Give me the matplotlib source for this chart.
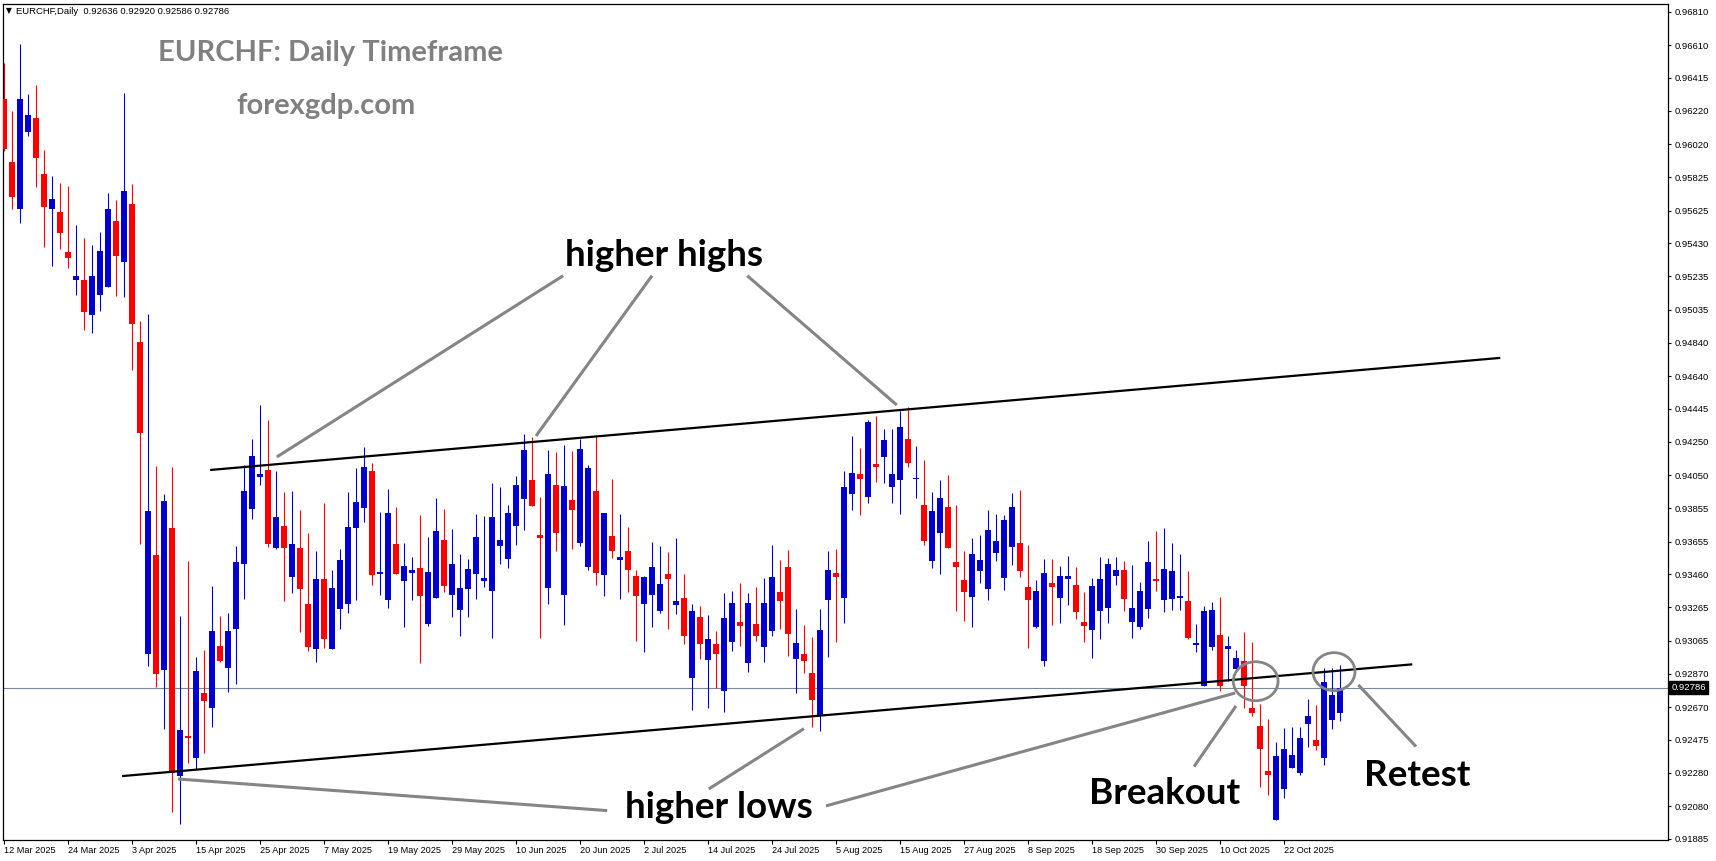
import matplotlib
matplotlib.use("Agg")
import matplotlib.pyplot as plt
from matplotlib.patches import Ellipse
from matplotlib.transforms import blended_transform_factory

# ---------------- data ----------------
opens = [0.96290,0.95915,0.95637,0.96095,0.96177,0.95843,0.95637,0.95617,0.95381,0.95214,
         0.95212,0.95006,0.95125,0.95173,0.95564,0.95321,0.95667,0.94845,0.92988,0.93576,
         0.92888,0.93736,0.92260,0.92498,0.92369,0.92756,0.92667,0.93034,0.92905,0.93133,
         0.93520,0.93848,0.94042,0.94082,0.93619,0.93748,0.93447,0.93617,0.93284,0.93018,
         0.93433,0.93018,0.93256,0.93286,0.93738,0.93857,0.94076,0.93460,0.93308,0.93641,
         0.93423,0.93471,0.93498,0.93167,0.93322,0.93665,0.93339,0.93250,0.93375,0.93464,
         0.93423,0.93363,0.93631,0.93554,0.93750,0.93911,0.94022,0.93695,0.93381,0.93992,
         0.93339,0.93903,0.93649,0.93506,0.93957,0.93458,0.93689,0.93548,0.93599,0.93451,
         0.93286,0.93339,0.93244,0.93463,0.93280,0.93320,0.92845,0.93207,0.92952,0.93046,
         0.92768,0.93060,0.93177,0.92935,0.93165,0.93030,0.93125,0.93357,0.93504,0.92958,
         0.92986,0.92875,0.92617,0.93310,0.93468,0.93322,0.93941,0.94058,0.93923,0.94117,
         0.94159,0.93982,0.94024,0.94266,0.94026,0.93873,0.93542,0.93708,0.93861,0.93534,
         0.93427,0.93327,0.93482,0.93375,0.93589,0.93441,0.93625,0.93647,0.93387,0.93149,
         0.92947,0.93409,0.93322,0.93435,0.93397,0.93177,0.93131,0.93244,0.93262,0.93452,
         0.93486,0.93179,0.93149,0.93256,0.93435,0.93310,0.93316,0.93322,0.93302,0.93042,
         0.92798,0.93030,0.93099,0.93018,0.92897,0.92945,0.92666,0.92558,0.92290,0.91997,
         0.92181,0.92310,0.92280,0.92570,0.92475,0.92369,0.92594,0.92636]
highs = [0.96502,0.96218,0.96617,0.96320,0.96373,0.95986,0.95831,0.95790,0.95774,0.95540,
         0.95462,0.95421,0.95500,0.95730,0.95689,0.96327,0.95784,0.94967,0.95010,0.94105,
         0.93939,0.94098,0.93213,0.93540,0.92970,0.93010,0.93391,0.93213,0.93232,0.93629,
         0.94111,0.94264,0.94468,0.94379,0.94076,0.93951,0.93957,0.93844,0.93705,0.93598,
         0.93883,0.93486,0.93610,0.93951,0.94094,0.94217,0.94123,0.93832,0.93970,0.93861,
         0.93647,0.93564,0.93814,0.93685,0.93915,0.93849,0.93730,0.93582,0.93552,0.93820,
         0.93808,0.94004,0.93980,0.93873,0.94046,0.94296,0.94280,0.93921,0.94202,0.94189,
         0.94230,0.94195,0.94266,0.94111,0.94290,0.93826,0.94028,0.93820,0.93742,0.93486,
         0.93451,0.93653,0.93629,0.93594,0.93677,0.93464,0.93286,0.93270,0.93219,0.93123,
         0.93350,0.93363,0.93411,0.93348,0.93385,0.93439,0.93637,0.93546,0.93605,0.93256,
         0.93159,0.93089,0.93256,0.93599,0.93611,0.94076,0.94284,0.94213,0.94379,0.94403,
         0.94326,0.94326,0.94433,0.94455,0.94224,0.94141,0.93951,0.94022,0.94052,0.93873,
         0.93599,0.93677,0.93695,0.93844,0.93820,0.93814,0.93947,0.93962,0.93635,0.93427,
         0.93554,0.93552,0.93510,0.93570,0.93504,0.93355,0.93439,0.93564,0.93560,0.93564,
         0.93540,0.93516,0.93415,0.93659,0.93719,0.93736,0.93647,0.93582,0.93480,0.93165,
         0.93272,0.93298,0.93326,0.93094,0.93010,0.93117,0.93056,0.92688,0.92600,0.92463,
         0.92546,0.92550,0.92550,0.92719,0.92683,0.92901,0.92901,0.92920]
lows = [0.95980,0.95637,0.95550,0.96070,0.95768,0.95411,0.95298,0.95399,0.95286,0.95125,
        0.94917,0.94899,0.95030,0.95168,0.95119,0.95113,0.94679,0.93638,0.92916,0.92788,
        0.92542,0.92046,0.91975,0.92336,0.92300,0.92395,0.92554,0.92941,0.92762,0.92806,
        0.93312,0.93792,0.93990,0.93621,0.93610,0.93304,0.93351,0.93119,0.93006,0.92941,
        0.93020,0.93016,0.93137,0.93232,0.93308,0.93772,0.93399,0.93339,0.93260,0.93463,
        0.93144,0.93305,0.92935,0.93155,0.93322,0.93357,0.93208,0.93095,0.93208,0.93316,
        0.93387,0.93083,0.93524,0.93500,0.93637,0.93726,0.93867,0.93083,0.93286,0.93601,
        0.93161,0.93613,0.93631,0.93488,0.93399,0.93333,0.93560,0.93316,0.93357,0.93066,
        0.93000,0.93149,0.93232,0.93137,0.93226,0.93048,0.92653,0.92958,0.92665,0.92786,
        0.92641,0.93006,0.93036,0.92881,0.93066,0.92941,0.93095,0.93137,0.92976,0.92756,
        0.92875,0.92552,0.92528,0.92970,0.93060,0.93173,0.93845,0.93816,0.93887,0.94012,
        0.94006,0.93887,0.93821,0.94101,0.93917,0.93637,0.93500,0.93464,0.93617,0.93244,
        0.93185,0.93149,0.93411,0.93310,0.93542,0.93369,0.93518,0.93445,0.93024,0.93143,
        0.92917,0.93161,0.93173,0.93280,0.93196,0.93060,0.92964,0.93077,0.93173,0.93395,
        0.93244,0.93083,0.93137,0.93202,0.93363,0.93238,0.93250,0.93250,0.93077,0.93000,
        0.92796,0.93012,0.92768,0.92828,0.92887,0.92667,0.92619,0.92197,0.92147,0.91997,
        0.92131,0.92305,0.92268,0.92435,0.92415,0.92326,0.92542,0.92586]
closes = [0.95990,0.95708,0.96290,0.96195,0.95940,0.95649,0.95695,0.95494,0.95345,0.95236,
          0.95024,0.95236,0.95385,0.95635,0.95357,0.95742,0.94952,0.94304,0.93838,0.92869,
          0.93894,0.92278,0.92534,0.92486,0.92885,0.92708,0.93123,0.92947,0.93123,0.93534,
          0.93957,0.94165,0.94058,0.93641,0.93804,0.93619,0.93641,0.93375,0.93026,0.93433,
          0.93074,0.93379,0.93546,0.93742,0.93891,0.94099,0.93457,0.93475,0.93827,0.93464,
          0.93511,0.93486,0.93333,0.93475,0.93719,0.93393,0.93522,0.93379,0.93492,0.93683,
          0.93439,0.93802,0.93665,0.93826,0.93992,0.94201,0.93869,0.93679,0.94058,0.93708,
          0.93986,0.93845,0.94207,0.94094,0.93470,0.93826,0.93601,0.93564,0.93488,0.93333,
          0.93445,0.93504,0.93403,0.93435,0.93300,0.93095,0.93241,0.93048,0.93076,0.92988,
          0.93202,0.93290,0.93155,0.93290,0.93095,0.93290,0.93445,0.93304,0.93107,0.93052,
          0.92947,0.92713,0.93131,0.93486,0.93447,0.93980,0.94064,0.94030,0.94367,0.94101,
          0.94260,0.94058,0.94338,0.94125,0.94034,0.93661,0.93838,0.93915,0.93619,0.93506,
          0.93357,0.93582,0.93546,0.93724,0.93659,0.93784,0.93861,0.93482,0.93310,0.93361,
          0.93468,0.93387,0.93451,0.93451,0.93238,0.93155,0.93391,0.93433,0.93522,0.93486,
          0.93316,0.93260,0.93361,0.93534,0.93423,0.93492,0.93480,0.93333,0.93083,0.93054,
          0.93242,0.93248,0.92798,0.93034,0.92963,0.92798,0.92632,0.92423,0.92268,0.92379,
          0.92421,0.92385,0.92486,0.92617,0.92441,0.92820,0.92742,0.92786]

date_labels = ["12 Mar 2025", "24 Mar 2025", "3 Apr 2025", "15 Apr 2025", "25 Apr 2025",
               "7 May 2025", "19 May 2025", "29 May 2025", "10 Jun 2025", "20 Jun 2025",
               "2 Jul 2025", "14 Jul 2025", "24 Jul 2025", "5 Aug 2025", "15 Aug 2025",
               "27 Aug 2025", "8 Sep 2025", "18 Sep 2025", "30 Sep 2025", "10 Oct 2025",
               "22 Oct 2025"]
date_label_bars = [0, 8, 16, 24, 32, 40, 48, 56, 64, 72, 80, 88, 96, 104, 112, 120,
                   128, 136, 144, 152, 160]
price_ticks = [0.96810, 0.96610, 0.96415, 0.96220, 0.96020, 0.95825, 0.95625, 0.95430,
               0.95235, 0.95035, 0.94840, 0.94640, 0.94445, 0.94250, 0.94050, 0.93855,
               0.93655, 0.93460, 0.93265, 0.93065, 0.92870, 0.92670, 0.92475, 0.92280,
               0.92080, 0.91885]
last_price = 0.92786
header = "EURCHF,Daily  0.92636 0.92920 0.92586 0.92786"

# trend lines (bar index, price)
upper_line = [(25.9, 0.94082), (186.9, 0.94748)]
lower_line = [(14.9, 0.92260), (175.9, 0.92924)]
# annotation pointers
hh_pointers = [[(69.9, 0.95238), (34.1, 0.94159)],
               [(81.0, 0.95238), (66.5, 0.94284)],
               [(92.9, 0.95238), (111.6, 0.94468)]]
hl_pointers = [[(75.4, 0.92054), (21.75, 0.92242)],
               [(88.1, 0.92183), (100.0, 0.92542)],
               [(102.75, 0.92082), (153.9, 0.92754)]]
breakout_pointer = [(148.75, 0.92316), (154.0, 0.92677)]
retest_pointer = [(169.3, 0.92802), (176.5, 0.92435)]
breakout_circle = (156.46, 0.92824)
retest_circle = (166.25, 0.92881)

# ---------------- figure ----------------
W, H = 1716, 861
fig = plt.figure(figsize=(W / 100, H / 100), dpi=100)
fig.patch.set_facecolor("white")
left, right, top, bottom = 2.5, 1668, 4, 840
ax = fig.add_axes([left / W, (H - bottom) / H, (right - left) / W, (bottom - top) / H])
ax.set_facecolor("white")

bull = "#0000d0"
bear = "#ff0000"
n = len(closes)
xs = list(range(n))
body_w = 0.63
for i in xs:
    o, h, l, c = opens[i], highs[i], lows[i], closes[i]
    col = bull if c >= o else bear
    ax.vlines(i, l, h, color=col, linewidth=0.8, zorder=2)
    b = min(o, c)
    hgt = max(abs(c - o), 0.00009)
    ax.bar(i, hgt, bottom=b, width=body_w, color=col, linewidth=0, zorder=3)

ax.set_xlim(-0.19, 208.0)
ax.set_ylim(0.91879, 0.96855)

# current price line
ax.axhline(last_price, color="#7a8a9a", linewidth=0.8, zorder=1)

# trend lines
for ln in (upper_line, lower_line):
    ax.plot([p[0] for p in ln], [p[1] for p in ln], color="black", linewidth=1.6, zorder=4)

gray = "#858585"
for seg in hh_pointers + hl_pointers + [breakout_pointer, retest_pointer]:
    ax.plot([p[0] for p in seg], [p[1] for p in seg], color=gray, linewidth=2.2,
            solid_capstyle="butt", zorder=5)

for c, w_, h_ in ((breakout_circle, 5.6, 0.00232), (retest_circle, 5.25, 0.00226)):
    ax.add_patch(Ellipse(c, w_, h_, fill=False, edgecolor=gray, linewidth=2.0, zorder=5))

font = ["Lato", "DejaVu Sans"]
ann_kw = dict(fontsize=26.5, fontweight="bold", color="black", family=font,
              ha="center", va="center", zorder=6)
ax.text(82.5, 0.95361, "higher highs", **ann_kw)
ax.text(89.4, 0.92073, "higher lows", **ann_kw)
ax.text(145.1, 0.92155, "Breakout", **ann_kw)
ax.text(176.6, 0.92262, "Retest", **ann_kw)

# title block
fig.text(330 / W, 1 - 53 / H, "EURCHF: Daily Timeframe", fontsize=21, fontweight="bold",
         color="#808080", family=font, ha="center", va="center")
fig.text(326 / W, 1 - 106 / H, "forexgdp.com", fontsize=21, fontweight="bold",
         color="#808080", family=font, ha="center", va="center")

small = ["Liberation Sans", "DejaVu Sans"]
# header
fig.text(6 / W, 1 - 11 / H, "\u25bc", fontsize=5.5, color="black", va="center", ha="left",
         family=["DejaVu Sans"])
fig.text(16 / W, 1 - 11 / H, header, fontsize=6.8, color="black", va="center", ha="left",
         family=small)

# axes styling
for s in ax.spines.values():
    s.set_color("black")
    s.set_linewidth(0.9)
ax.yaxis.tick_right()
ax.set_yticks(price_ticks)
ax.set_yticklabels([f"{v:.5f}" for v in price_ticks], family=small)
ax.tick_params(axis="y", direction="out", length=2.5, width=0.8, pad=2.5,
               labelsize=6.8, colors="black")
ax.set_xticks(date_label_bars)
ax.set_xticklabels(date_labels, family=small)
for lab in ax.get_xticklabels():
    lab.set_horizontalalignment("left")
ax.tick_params(axis="x", direction="out", length=3, width=0.8, pad=1.5,
               labelsize=6.6, colors="black")

# current price box
tr = blended_transform_factory(ax.transAxes, ax.transData)
ax.text(1.002, last_price, f"{last_price:.5f}", transform=tr, fontsize=6.8, color="white",
        ha="left", va="center", zorder=10, clip_on=False, family=small,
        bbox=dict(boxstyle="square,pad=0.2", facecolor="black", edgecolor="black"))

fig.savefig("out.png", dpi=100, facecolor="white")
